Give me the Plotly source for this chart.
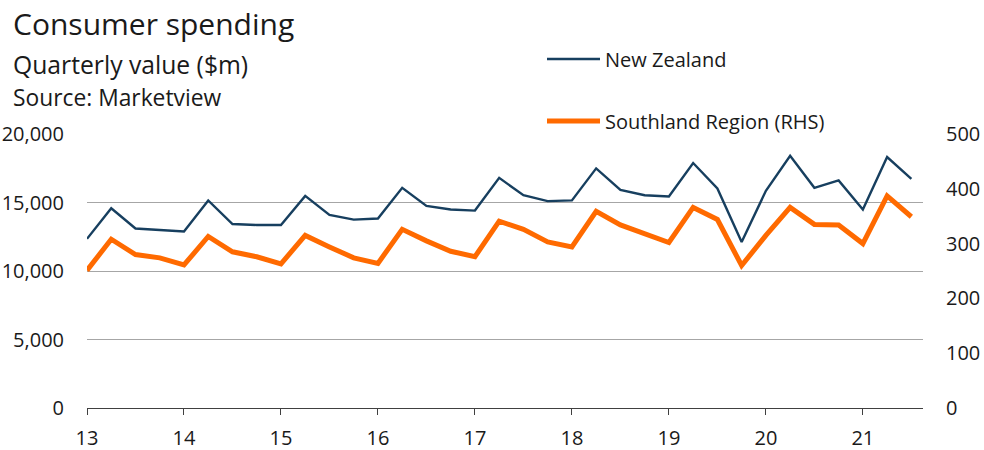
import plotly.graph_objects as go

# Quarterly points from 2013 Q1 to 2021 Q3 (x in years, 13 = 2013)
quarters = [13 + 0.25 * i for i in range(35)]

nz_values = [12350, 14580, 13100, 13000, 12880, 15150, 13430, 13360, 13360,
             15480, 14090, 13750, 13830, 16070, 14750, 14490, 14410, 16800,
             15530, 15100, 15150, 17490, 15920, 15530, 15440, 17880, 16030,
             12120, 15850, 18410, 16070, 16610, 14490, 18320, 16730]

southland_values = [251, 308, 280, 274, 261, 313, 285, 276, 263,
                    315, 294, 274, 264, 326, 305, 286, 276, 341,
                    326, 303, 294, 359, 334, 317, 302, 366, 344,
                    260, 315, 366, 335, 334, 300, 387, 349]

x_tick_vals = [13, 14, 15, 16, 17, 18, 19, 20, 21]
x_tick_text = ["13", "14", "15", "16", "17", "18", "19", "20", "21"]
left_ticks = [0, 5000, 10000, 15000, 20000]
left_tick_text = ["0", "5,000", "10,000", "15,000", "20,000"]
right_ticks = [0, 100, 200, 300, 400, 500]

FONT = "Open Sans"
TXT = "#1a1a1a"

W, H = 984, 450
ML, MR, MT, MB = 87, 61, 134, 42
plot_w = W - ML - MR
plot_h = H - MT - MB

def px(xp):
    return (xp - ML) / plot_w

def py(yp):
    return (H - MB - yp) / plot_h

fig = go.Figure()
fig.add_trace(go.Scatter(
    x=quarters, y=nz_values, name="New Zealand", mode="lines",
    line=dict(color="#173F5F", width=2.4), legend="legend"))
fig.add_trace(go.Scatter(
    x=quarters, y=southland_values, name="Southland Region (RHS)", mode="lines",
    line=dict(color="#FF6A00", width=5), yaxis="y2", legend="legend2"))

fig.update_layout(
    width=W, height=H,
    margin=dict(l=ML, r=MR, t=MT, b=MB, autoexpand=False),
    paper_bgcolor="white", plot_bgcolor="white",
    showlegend=True,
    font=dict(family=FONT, color=TXT, size=20),
    xaxis=dict(range=[13, 21.62], tickvals=x_tick_vals, ticktext=x_tick_text,
               showgrid=False, showline=True, linecolor="#404040", linewidth=1,
               ticks="outside", ticklen=6, tickcolor="#404040", tickwidth=1,
               ticklabelstandoff=6,
               tickfont=dict(size=20, color=TXT), zeroline=False),
    yaxis=dict(range=[0, 20000], tickvals=left_ticks, ticktext=left_tick_text,
               showgrid=True, gridcolor="#a6a6a6", gridwidth=1,
               zeroline=False, showline=False, ticks="", ticklabelstandoff=22,
               tickfont=dict(size=20, color=TXT)),
    yaxis2=dict(range=[0, 500], tickvals=right_ticks, overlaying="y", side="right",
                showgrid=False, zeroline=False, showline=False, ticks="",
                ticklabelstandoff=22, tickfont=dict(size=20, color=TXT)),
    legend=dict(x=px(542), y=py(59), xanchor="left", yanchor="middle",
                bgcolor="rgba(255,255,255,0)", itemwidth=53,
                font=dict(size=20, color=TXT)),
    legend2=dict(x=px(542), y=py(121), xanchor="left", yanchor="middle",
                 bgcolor="white", itemwidth=53,
                 font=dict(size=20, color=TXT)),
)

fig.add_annotation(text="Consumer spending", x=px(11), y=py(23), xref="paper", yref="paper",
                   xanchor="left", yanchor="middle", showarrow=False,
                   font=dict(size=30, color=TXT, family=FONT))
fig.add_annotation(text="Quarterly value ($m)", x=px(11), y=py(65), xref="paper", yref="paper",
                   xanchor="left", yanchor="middle", showarrow=False,
                   font=dict(size=24.7, color=TXT, family=FONT))
fig.add_annotation(text="Source: Marketview", x=px(11), y=py(97), xref="paper", yref="paper",
                   xanchor="left", yanchor="middle", showarrow=False,
                   font=dict(size=22.8, color=TXT, family=FONT))

fig.write_html("out.html",
               config={"displayModeBar": False},
               post_script="document.body.style.margin='0';document.body.style.padding='0';")
